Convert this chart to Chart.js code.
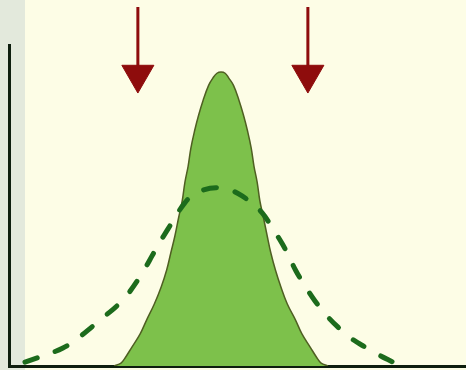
<!DOCTYPE html>
<html>
<head>
<meta charset="utf-8">
<script src="https://cdn.jsdelivr.net/npm/chart.js@4/dist/chart.umd.min.js"></script>
<style>
  html, body { margin: 0; padding: 0; background: #fdfde6; }
  canvas { display: block; }
</style>
</head>
<body>
<canvas id="c" width="466" height="370"></canvas>
<script>
// Narrow (filled) distribution
const narrowX = [2.30, 2.45, 2.54, 2.69, 2.87, 3.01, 3.18, 3.33, 3.45, 3.54, 3.63, 3.71, 3.79, 3.85, 3.92, 3.98, 4.06, 4.15, 4.25, 4.37, 4.46, 4.55, 4.64,
                 4.73, 4.81, 4.91, 5.03, 5.13, 5.22, 5.30, 5.36, 5.43, 5.49, 5.57, 5.65, 5.73, 5.83, 5.95, 6.09, 6.27, 6.41, 6.59, 6.74, 6.83, 6.98];
const narrowY = [0, 0.009, 0.025, 0.059, 0.100, 0.143, 0.193, 0.246, 0.299, 0.352, 0.405, 0.461, 0.514, 0.573, 0.623, 0.679, 0.732, 0.782, 0.829, 0.875, 0.897, 0.912, 0.916,
                 0.912, 0.897, 0.875, 0.829, 0.782, 0.732, 0.679, 0.623, 0.573, 0.514, 0.461, 0.405, 0.352, 0.299, 0.246, 0.193, 0.143, 0.100, 0.059, 0.025, 0.009, 0];

// Wide (dashed) distribution
const wideX = [0.35, 0.79, 1.18, 1.51, 1.84, 2.10, 2.36, 2.60, 2.82, 2.98, 3.13, 3.30, 3.48, 3.65, 3.83, 4.00, 4.25, 4.53,
               4.84, 5.10, 5.32, 5.54, 5.75, 5.97, 6.13, 6.28, 6.48, 6.70, 6.94, 7.20, 7.48, 7.79, 8.10, 8.40];
const wideY = [0.012, 0.034, 0.056, 0.087, 0.125, 0.156, 0.187, 0.224, 0.268, 0.305, 0.343, 0.386, 0.427, 0.467, 0.505, 0.530, 0.548, 0.555,
               0.548, 0.530, 0.505, 0.477, 0.433, 0.383, 0.340, 0.296, 0.249, 0.202, 0.159, 0.121, 0.087, 0.059, 0.034, 0.012];

// Arrows
const arrowX = [2.82, 6.54];
const arrowTopY = [1.118, 1.118];
const arrowHeadY = [0.908, 0.908];
const arrowShaftEndY = [0.93, 0.93];

const pts = (xs, ys) => xs.map((x, i) => ({ x: x, y: ys[i] }));

const shaft = [];
arrowX.forEach((x, i) => {
  shaft.push({ x: x, y: arrowTopY[i] });
  shaft.push({ x: x, y: arrowShaftEndY[i] });
  shaft.push({ x: x, y: null });
});

const bgPlugin = {
  id: 'bg',
  beforeDraw(chart) {
    const ctx = chart.ctx;
    ctx.save();
    ctx.fillStyle = '#fdfde6';
    ctx.fillRect(0, 0, chart.width, chart.height);
    ctx.fillStyle = '#e3e9dc';
    ctx.fillRect(0, 0, 25, chart.height);
    ctx.restore();
  }
};

new Chart(document.getElementById('c'), {
  type: 'line',
  data: {
    datasets: [
      {
        data: pts(narrowX, narrowY),
        borderColor: '#4f5f22',
        borderWidth: 1.5,
        backgroundColor: '#7dc14b',
        fill: 'origin',
        pointRadius: 0,
        tension: 0.4,
        order: 4
      },
      {
        data: pts(wideX, wideY),
        borderColor: '#1c6b1c',
        borderWidth: 5,
        borderDash: [13, 19],
        borderCapStyle: 'round',
        fill: false,
        pointRadius: 0,
        tension: 0.4,
        order: 3
      },
      {
        data: shaft,
        borderColor: '#8e0c0c',
        borderWidth: 3,
        pointRadius: 0,
        spanGaps: false,
        fill: false,
        clip: false,
        order: 2
      },
      {
        data: pts(arrowX, arrowHeadY),
        showLine: false,
        pointStyle: 'triangle',
        rotation: 180,
        pointRadius: 18.5,
        pointBackgroundColor: '#8e0c0c',
        pointBorderColor: '#8e0c0c',
        pointBorderWidth: 1,
        clip: false,
        order: 1
      }
    ]
  },
  options: {
    responsive: false,
    animation: false,
    layout: { autoPadding: false, padding: { left: 9, top: 45, right: 0, bottom: 4 } },
    plugins: { legend: { display: false }, tooltip: { enabled: false } },
    scales: {
      x: {
        type: 'linear', min: 0, max: 10, z: 1,
        grid: { display: false, drawTicks: false },
        ticks: { display: false },
        border: { display: true, color: '#0e1e0e', width: 3 }
      },
      y: {
        type: 'linear', min: 0, max: 1,
        grid: { display: false, drawTicks: false },
        ticks: { display: false },
        border: { display: true, color: '#0e1e0e', width: 3 }
      }
    }
  },
  plugins: [bgPlugin]
});
</script>
</body>
</html>
